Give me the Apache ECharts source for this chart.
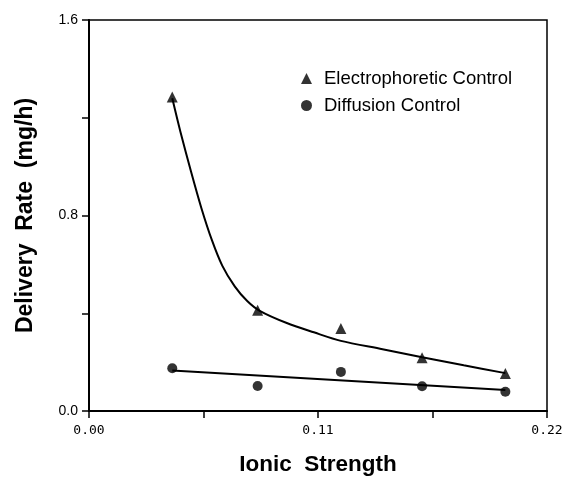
<!DOCTYPE html>
<html>
<head>
<meta charset="utf-8">
<script src="https://cdn.jsdelivr.net/npm/echarts@6/dist/echarts.min.js"></script>
<style>
  html, body { margin: 0; padding: 0; background: #fff; }
  #chart { width: 566px; height: 481px; }
</style>
</head>
<body>
<div id="chart"></div>
<script>
var chartDom = document.getElementById('chart');
var myChart = echarts.init(chartDom);

// measured points
var ionicStrength = [0.040, 0.081, 0.121, 0.160, 0.200];
var electroRate = [1.285, 0.412, 0.338, 0.218, 0.153];
var diffusionRate = [0.175, 0.102, 0.160, 0.101, 0.079];

// fitted curves as drawn
var electroFitX = [0.040, 0.044, 0.049, 0.054, 0.059, 0.064, 0.070, 0.076, 0.082, 0.095, 0.108, 0.121, 0.141, 0.160, 0.180, 0.200];
var electroFitY = [1.28, 1.14, 0.98, 0.83, 0.70, 0.595, 0.51, 0.45, 0.41, 0.36, 0.322, 0.287, 0.253, 0.220, 0.187, 0.155];
var diffusionFitX = [0.040, 0.200];
var diffusionFitY = [0.166, 0.086];

var xLabels = ['0.00', '0.11', '0.22'];
var yLabels = ['0.0', '0.8', '1.6'];

function pairs(xs, ys) {
  return xs.map(function (x, i) { return [x, ys[i]]; });
}

var option = {
  animation: false,
  backgroundColor: '#fff',
  grid: {
    left: 89,
    right: 19,
    top: 20,
    bottom: 63,
    show: true,
    borderColor: '#000',
    borderWidth: 1.5
  },
  legend: {
    orient: 'vertical',
    left: 296,
    top: 64,
    itemWidth: 11,
    itemHeight: 11,
    itemGap: 8,
    data: ['Electrophoretic Control', 'Diffusion Control'],
    textStyle: { fontFamily: 'Liberation Sans', fontSize: 18.5, color: '#000', padding: [0, 0, 0, 7] }
  },
  xAxis: {
    type: 'value',
    min: 0,
    max: 0.22,
    interval: 0.055,
    name: 'Ionic  Strength',
    nameLocation: 'middle',
    nameGap: 42,
    nameTextStyle: { fontFamily: 'Liberation Sans', fontWeight: 'bold', fontSize: 22.5, color: '#000' },
    axisLine: { lineStyle: { color: '#000', width: 2 } },
    axisTick: { length: 7, lineStyle: { color: '#000', width: 1.5 } },
    axisLabel: {
      color: '#000',
      fontFamily: 'DejaVu Sans Mono',
      fontSize: 13,
      margin: 13,
      formatter: function (v) {
        var s = v.toFixed(2);
        return xLabels.indexOf(s) >= 0 ? s : '';
      }
    },
    splitLine: { show: false }
  },
  yAxis: {
    type: 'value',
    min: 0,
    max: 1.6,
    interval: 0.4,
    name: 'Delivery  Rate  (mg/h)',
    nameLocation: 'middle',
    nameGap: 52,
    nameTextStyle: { fontFamily: 'Liberation Sans', fontWeight: 'bold', fontSize: 23, color: '#000' },
    axisLine: { show: true, lineStyle: { color: '#000', width: 2 } },
    axisTick: { show: true, length: 7, lineStyle: { color: '#000', width: 1.5 } },
    axisLabel: {
      color: '#000',
      fontFamily: 'Liberation Sans',
      fontSize: 14,
      margin: 11,
      formatter: function (v) {
        var s = v.toFixed(1);
        return yLabels.indexOf(s) >= 0 ? s : '';
      }
    },
    splitLine: { show: false }
  },
  series: [
    {
      type: 'line',
      data: pairs(electroFitX, electroFitY),
      smooth: 0.3,
      symbol: 'none',
      lineStyle: { color: '#000', width: 2 },
      silent: true
    },
    {
      type: 'line',
      data: pairs(diffusionFitX, diffusionFitY),
      symbol: 'none',
      lineStyle: { color: '#000', width: 2 },
      silent: true
    },
    {
      name: 'Electrophoretic Control',
      type: 'scatter',
      symbol: 'triangle',
      symbolSize: 11,
      itemStyle: { color: '#000' },
      data: pairs(ionicStrength, electroRate)
    },
    {
      name: 'Diffusion Control',
      type: 'scatter',
      symbol: 'circle',
      symbolSize: 10,
      itemStyle: { color: '#000' },
      data: pairs(ionicStrength, diffusionRate)
    }
  ]
};

option && myChart.setOption(option);
</script>
</body>
</html>
